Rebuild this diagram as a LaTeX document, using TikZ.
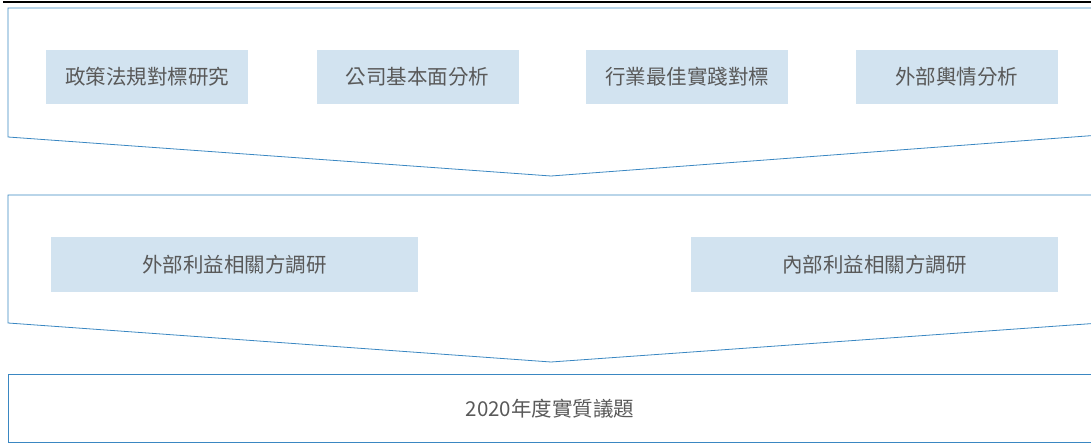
\documentclass[tikz,border=0pt]{standalone}
\usepackage{fontspec}
\setmainfont{Noto Sans CJK TC}
\definecolor{frameblue}{HTML}{3A87C2}
\definecolor{boxfill}{HTML}{D2E3F0}
\definecolor{txtgray}{HTML}{595959}
\tikzset{
  topicbox/.style={fill=boxfill, minimum height=54pt, inner sep=0pt,
    text=txtgray, font=\fontsize{20.5}{24}\selectfont},
  stage/.style={draw=frameblue, line width=0.8pt}
}
\begin{document}
\begin{tikzpicture}[x=1pt,y=-1pt]
\useasboundingbox (0,0) rectangle (1091,443);
\clip (0,0) rectangle (1091,443);
\draw[line width=1.4pt] (3,2) -- (1095,2);
% stage 1
\draw[stage] (1100,8) -- (8,8) -- (8,137) -- (551,176) -- (1100,135);
\foreach \x/\name/\txt in {147/pol/政策法規對標研究, 417.5/com/公司基本面分析,
    687/ind/行業最佳實踐對標, 956.5/opn/外部輿情分析}
  \node[topicbox, minimum width=202pt] (\name) at (\x,77) {\txt};
% stage 2
\draw[stage] (1100,195) -- (8,195) -- (8,323) -- (551,362) -- (1100,323);
\node[topicbox, minimum width=367pt, minimum height=55pt] (ext) at (234.5,264.5) {外部利益相關方調研};
\node[topicbox, minimum width=367pt, minimum height=55pt] (int) at (874.5,264.5) {內部利益相關方調研};
% stage 3
\draw[stage] (1100,374) -- (8,374) -- (8,442) -- (1100,442);
\node[text=txtgray, font=\fontsize{20.5}{24}\selectfont] (res) at (550,409) {2020年度實質議題};
\end{tikzpicture}
\end{document}
